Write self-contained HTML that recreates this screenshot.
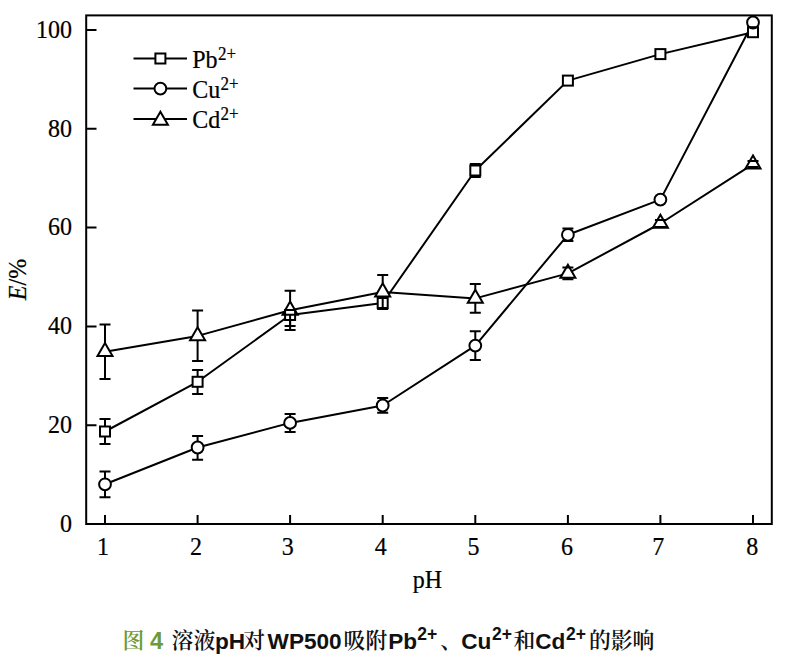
<!DOCTYPE html>
<html><head><meta charset="utf-8"><title>Figure 4</title>
<style>
html,body{margin:0;padding:0;background:#fff;}
body{width:794px;height:658px;overflow:hidden;position:relative;}
svg{position:absolute;left:0;top:0;display:block;}
</style></head>
<body>
<svg width="794" height="658" viewBox="0 0 794 658">
<rect x="86.2" y="15.4" width="685.6" height="508.6" fill="none" stroke="#000" stroke-width="2"/>
<path d="M86 524.0H96.5M86 425.2H96.5M86 326.4H96.5M86 227.6H96.5M86 128.8H96.5M86 30.0H96.5M105.0 524V515M197.6 524V515M290.1 524V515M382.7 524V515M475.3 524V515M567.9 524V515M660.4 524V515M753.0 524V515" stroke="#000" stroke-width="2" fill="none"/>
<polyline points="105.0,431.5 197.6,381.8 290.1,315.0 382.7,303.0 475.3,170.5 567.9,80.6 660.4,54.1 753.0,32.2" fill="none" stroke="#000" stroke-width="2.0" stroke-linejoin="round"/>
<polyline points="105.0,484.3 197.6,447.5 290.1,422.9 382.7,405.5 475.3,345.6 567.9,234.8 660.4,199.6 753.0,22.5" fill="none" stroke="#000" stroke-width="2.0" stroke-linejoin="round"/>
<polyline points="105.0,351.8 197.6,335.9 290.1,310.3 382.7,292.0 475.3,298.4 567.9,273.4 660.4,223.5 753.0,164.1" fill="none" stroke="#000" stroke-width="2.0" stroke-linejoin="round"/>
<line x1="133.5" y1="58.5" x2="187" y2="58.5" stroke="#000" stroke-width="2.0"/>
<line x1="133.5" y1="88.6" x2="187" y2="88.6" stroke="#000" stroke-width="2.0"/>
<line x1="133.5" y1="119.0" x2="187" y2="119.0" stroke="#000" stroke-width="2.0"/>
<g fill="#fff" stroke="none"><rect x="100.0" y="426.5" width="10.0" height="10.0"/><rect x="192.6" y="376.8" width="10.0" height="10.0"/><rect x="285.1" y="310.0" width="10.0" height="10.0"/><rect x="377.7" y="298.0" width="10.0" height="10.0"/><rect x="470.3" y="165.5" width="10.0" height="10.0"/><rect x="562.9" y="75.6" width="10.0" height="10.0"/><rect x="655.4" y="49.1" width="10.0" height="10.0"/><rect x="748.0" y="27.2" width="10.0" height="10.0"/><circle cx="105.0" cy="484.3" r="5.9"/><circle cx="197.6" cy="447.5" r="5.9"/><circle cx="290.1" cy="422.9" r="5.9"/><circle cx="382.7" cy="405.5" r="5.9"/><circle cx="475.3" cy="345.6" r="5.9"/><circle cx="567.9" cy="234.8" r="5.9"/><circle cx="660.4" cy="199.6" r="5.9"/><circle cx="753.0" cy="22.5" r="5.9"/><path d="M105.0 343.1L112.5 356.1L97.5 356.1Z"/><path d="M197.6 327.2L205.1 340.2L190.1 340.2Z"/><path d="M290.1 301.6L297.6 314.7L282.6 314.7Z"/><path d="M382.7 283.3L390.2 296.4L375.2 296.4Z"/><path d="M475.3 289.8L482.8 302.8L467.8 302.8Z"/><path d="M567.9 264.7L575.4 277.8L560.4 277.8Z"/><path d="M660.4 214.8L667.9 227.8L652.9 227.8Z"/><path d="M753.0 155.4L760.5 168.4L745.5 168.4Z"/><rect x="155.4" y="53.5" width="10.0" height="10.0"/><circle cx="160.4" cy="88.6" r="5.9"/><path d="M160.4 111.8L167.9 124.8L152.9 124.8Z"/></g>
<g fill="none" stroke="#000" stroke-width="2.0" stroke-linejoin="miter"><rect x="100.0" y="426.5" width="10.0" height="10.0"/><rect x="192.6" y="376.8" width="10.0" height="10.0"/><rect x="285.1" y="310.0" width="10.0" height="10.0"/><rect x="377.7" y="298.0" width="10.0" height="10.0"/><rect x="470.3" y="165.5" width="10.0" height="10.0"/><rect x="562.9" y="75.6" width="10.0" height="10.0"/><rect x="655.4" y="49.1" width="10.0" height="10.0"/><rect x="748.0" y="27.2" width="10.0" height="10.0"/><circle cx="105.0" cy="484.3" r="5.9"/><circle cx="197.6" cy="447.5" r="5.9"/><circle cx="290.1" cy="422.9" r="5.9"/><circle cx="382.7" cy="405.5" r="5.9"/><circle cx="475.3" cy="345.6" r="5.9"/><circle cx="567.9" cy="234.8" r="5.9"/><circle cx="660.4" cy="199.6" r="5.9"/><circle cx="753.0" cy="22.5" r="5.9"/><path d="M105.0 343.1L112.5 356.1L97.5 356.1Z"/><path d="M197.6 327.2L205.1 340.2L190.1 340.2Z"/><path d="M290.1 301.6L297.6 314.7L282.6 314.7Z"/><path d="M382.7 283.3L390.2 296.4L375.2 296.4Z"/><path d="M475.3 289.8L482.8 302.8L467.8 302.8Z"/><path d="M567.9 264.7L575.4 277.8L560.4 277.8Z"/><path d="M660.4 214.8L667.9 227.8L652.9 227.8Z"/><path d="M753.0 155.4L760.5 168.4L745.5 168.4Z"/><rect x="155.4" y="53.5" width="10.0" height="10.0"/><circle cx="160.4" cy="88.6" r="5.9"/><path d="M160.4 111.8L167.9 124.8L152.9 124.8Z"/></g>
<path d="M105.0 426.5V419.0M99.5 419.0H110.5M105.0 436.5V444.0M99.5 444.0H110.5" stroke="#000" stroke-width="2.0" fill="none"/>
<path d="M197.6 376.8V370.0M192.1 370.0H203.1M197.6 386.8V394.0M192.1 394.0H203.1" stroke="#000" stroke-width="2.0" fill="none"/>
<path d="M290.1 320.0V326.0M284.6 326.0H295.6" stroke="#000" stroke-width="2.0" fill="none"/>
<path d="M475.3 165.5V164.0M469.8 164.0H480.8M475.3 175.5V177.0M469.8 177.0H480.8" stroke="#000" stroke-width="2.0" fill="none"/>
<path d="M105.0 478.5V471.6M99.5 471.6H110.5M105.0 490.1V497.3M99.5 497.3H110.5" stroke="#000" stroke-width="2.0" fill="none"/>
<path d="M197.6 441.7V436.0M192.1 436.0H203.1M197.6 453.3V459.8M192.1 459.8H203.1" stroke="#000" stroke-width="2.0" fill="none"/>
<path d="M290.1 417.1V414.0M284.6 414.0H295.6M290.1 428.7V431.9M284.6 431.9H295.6" stroke="#000" stroke-width="2.0" fill="none"/>
<path d="M382.7 399.7V397.9M377.2 397.9H388.2M382.7 411.3V412.7M377.2 412.7H388.2" stroke="#000" stroke-width="2.0" fill="none"/>
<path d="M475.3 339.8V331.3M469.8 331.3H480.8M475.3 351.4V360.1M469.8 360.1H480.8" stroke="#000" stroke-width="2.0" fill="none"/>
<path d="M567.9 229.0V228.6M562.4 228.6H573.4M567.9 240.6V240.9M562.4 240.9H573.4" stroke="#000" stroke-width="2.0" fill="none"/>
<path d="M105.0 343.1V324.4M99.5 324.4H110.5M105.0 356.1V379.1M99.5 379.1H110.5" stroke="#000" stroke-width="2.0" fill="none"/>
<path d="M197.6 327.2V310.6M192.1 310.6H203.1M197.6 340.2V361.1M192.1 361.1H203.1" stroke="#000" stroke-width="2.0" fill="none"/>
<path d="M290.1 301.6V290.7M284.6 290.7H295.6M290.1 314.7V329.9M284.6 329.9H295.6" stroke="#000" stroke-width="2.0" fill="none"/>
<path d="M382.7 283.3V275.0M377.2 275.0H388.2M382.7 296.4V309.0M377.2 309.0H388.2" stroke="#000" stroke-width="2.0" fill="none"/>
<path d="M475.3 289.8V284.1M469.8 284.1H480.8M475.3 302.8V312.8M469.8 312.8H480.8" stroke="#000" stroke-width="2.0" fill="none"/>
<path d="M562.4 267.5H573.4M567.9 277.8V279.3M562.4 279.3H573.4" stroke="#000" stroke-width="2.0" fill="none"/>
<path d="M654.9 220.0H665.9M654.9 227.0H665.9" stroke="#000" stroke-width="2.0" fill="none"/>
<path d="M747.5 161.0H758.5M747.5 167.0H758.5" stroke="#000" stroke-width="2.0" fill="none"/>
<g font-family="Liberation Serif, serif" font-size="24" fill="#000" stroke="#000" stroke-width="0.2"><text transform="translate(72.0 531.7) scale(1 1.06)" text-anchor="end">0</text><text transform="translate(72.0 432.9) scale(1 1.06)" text-anchor="end">20</text><text transform="translate(72.0 334.1) scale(1 1.06)" text-anchor="end">40</text><text transform="translate(72.0 235.3) scale(1 1.06)" text-anchor="end">60</text><text transform="translate(72.0 136.5) scale(1 1.06)" text-anchor="end">80</text><text transform="translate(72.0 37.7) scale(1 1.06)" text-anchor="end">100</text><text transform="translate(103.0 554.6) scale(1 1.06)" text-anchor="middle">1</text><text transform="translate(195.9 554.6) scale(1 1.06)" text-anchor="middle">2</text><text transform="translate(287.8 554.6) scale(1 1.06)" text-anchor="middle">3</text><text transform="translate(380.8 554.6) scale(1 1.06)" text-anchor="middle">4</text><text transform="translate(473.5 554.6) scale(1 1.06)" text-anchor="middle">5</text><text transform="translate(566.9 554.6) scale(1 1.06)" text-anchor="middle">6</text><text transform="translate(658.3 554.6) scale(1 1.06)" text-anchor="middle">7</text><text transform="translate(752.3 554.6) scale(1 1.06)" text-anchor="middle">8</text><text transform="translate(427.5 588.3) scale(1 1.06)" text-anchor="middle">pH</text><text transform="translate(25.6 279.5) rotate(-90) scale(1 1.06)" text-anchor="middle"><tspan font-style="italic">E</tspan>/%</text><text transform="translate(192.2 68.3) scale(1 1.06)" text-anchor="start">Pb<tspan font-size="17" dx="0.4" dy="-8.0">2+</tspan></text><text transform="translate(192.2 98.0) scale(1 1.06)" text-anchor="start">Cu<tspan font-size="17" dx="0.4" dy="-8.0">2+</tspan></text><text transform="translate(192.2 128.2) scale(1 1.06)" text-anchor="start">Cd<tspan font-size="17" dx="0.4" dy="-8.0">2+</tspan></text></g>
<g><text x="122.4" y="647.7" font-family='"Noto Serif CJK SC", "Liberation Serif", serif' font-size="21.8" font-weight="600" fill="#6e9a3a">图</text><text x="150.0" y="648.7" font-family='"Liberation Sans", "Noto Serif CJK SC", sans-serif' font-size="23.5" font-weight="700" fill="#6e9a3a">4</text><text x="171.6" y="647.7" font-family='"Noto Serif CJK SC", "Liberation Serif", serif' font-size="21.8" font-weight="600" fill="#111">溶液</text><text x="215.0" y="648.7" font-family='"Liberation Sans", "Noto Serif CJK SC", sans-serif' font-size="22.6" font-weight="700" fill="#111">pH</text><text x="243.2" y="647.7" font-family='"Noto Serif CJK SC", "Liberation Serif", serif' font-size="21.8" font-weight="600" fill="#111">对</text><text x="267.6" y="648.7" font-family='"Liberation Sans", "Noto Serif CJK SC", sans-serif' font-size="22.6" font-weight="700" fill="#111">WP500</text><text x="343.6" y="647.7" font-family='"Noto Serif CJK SC", "Liberation Serif", serif' font-size="21.8" font-weight="600" fill="#111">吸附</text><text x="388.2" y="648.7" font-family='"Liberation Sans", "Noto Serif CJK SC", sans-serif' font-size="22.6" font-weight="700" fill="#111">Pb</text><text x="417.2" y="639.5" font-family='"Liberation Sans", "Noto Serif CJK SC", sans-serif' font-size="17.5" font-weight="700" fill="#111">2+</text><text x="440.2" y="647.7" font-family='"Noto Serif CJK SC", "Liberation Serif", serif' font-size="21.8" font-weight="600" fill="#111">、</text><text x="461.3" y="648.7" font-family='"Liberation Sans", "Noto Serif CJK SC", sans-serif' font-size="22.6" font-weight="700" fill="#111">Cu</text><text x="492.0" y="639.5" font-family='"Liberation Sans", "Noto Serif CJK SC", sans-serif' font-size="17.5" font-weight="700" fill="#111">2+</text><text x="513.5" y="647.7" font-family='"Noto Serif CJK SC", "Liberation Serif", serif' font-size="21.8" font-weight="600" fill="#111">和</text><text x="535.2" y="648.7" font-family='"Liberation Sans", "Noto Serif CJK SC", sans-serif' font-size="22.6" font-weight="700" fill="#111">Cd</text><text x="566.0" y="639.5" font-family='"Liberation Sans", "Noto Serif CJK SC", sans-serif' font-size="17.5" font-weight="700" fill="#111">2+</text><text x="588.9" y="647.7" font-family='"Noto Serif CJK SC", "Liberation Serif", serif' font-size="21.8" font-weight="600" fill="#111">的影响</text></g>
</svg>
</body></html>
